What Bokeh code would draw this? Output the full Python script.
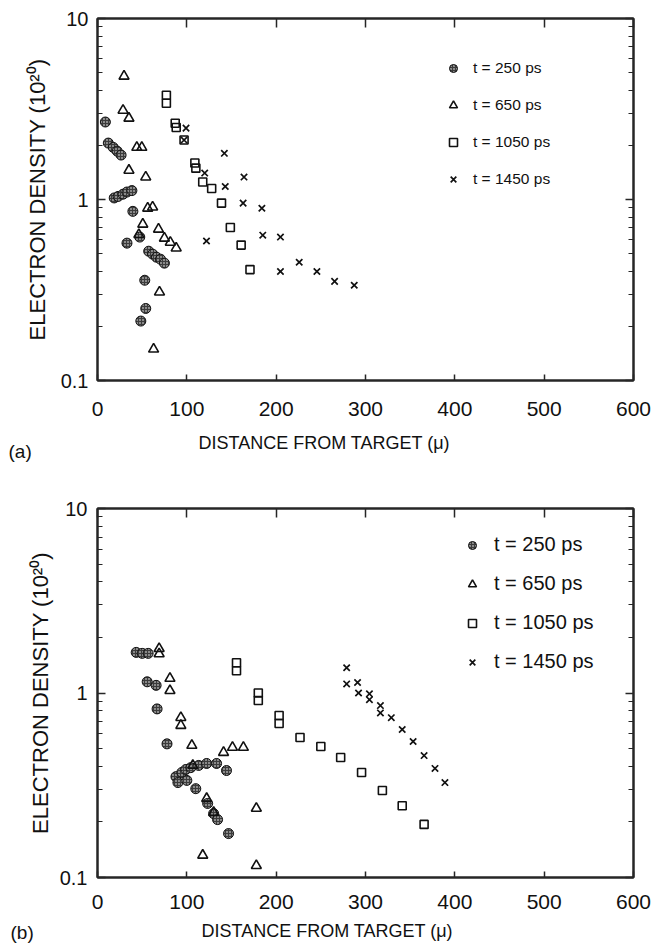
from bokeh.plotting import figure
from bokeh.models import (Range1d, LinearAxis, LogAxis, FixedTicker, Legend,
                          LegendItem, Title)
from bokeh.layouts import column
from bokeh.embed import file_html
from bokeh.resources import INLINE

# ---------------- data ----------------
X_TICKS = [0, 100, 200, 300, 400, 500, 600]
X_TICK_LABELS = ["0", "100", "200", "300", "400", "500", "600"]
Y_TICKS = [0.1, 1, 10]
Y_TICK_LABELS = ["0.1", "1", "10"]
Y_MINOR_TICKS = [0.2, 0.3, 0.4, 0.5, 0.6, 0.7, 0.8, 0.9,
                 2, 3, 4, 5, 6, 7, 8, 9]
SERIES_LABELS = ["t = 250 ps", "t = 650 ps", "t = 1050 ps", "t = 1450 ps"]
X_TITLE = "DISTANCE FROM TARGET (\u03bc)"
Y_TITLE = "ELECTRON DENSITY (10\u00b2\u2070)"
PANEL_TAGS = ["(a)", "(b)"]

# panel (a)
a_250_x = [8.8, 12.1, 17.6, 22.0, 26.4, 18.7, 23.1, 28.6, 33.0, 38.5, 39.6,
           33.0, 47.3, 57.3, 61.7, 66.0, 70.5, 74.9, 52.9, 54.0, 48.5]
a_250_y = [2.68, 2.05, 1.94, 1.85, 1.76, 1.02, 1.04, 1.07, 1.10, 1.12, 0.86,
           0.574, 0.62, 0.518, 0.499, 0.48, 0.468, 0.445, 0.358, 0.25, 0.213]
a_650_x = [29.7, 28.6, 35.2, 44.0, 49.6, 35.2, 54.0, 56.2, 61.7, 50.7, 46.3,
           68.3, 74.9, 81.5, 88.1, 69.4, 62.8]
a_650_y = [4.8, 3.11, 2.81, 1.94, 1.94, 1.45, 1.33, 0.895, 0.908, 0.73, 0.64,
           0.685, 0.611, 0.58, 0.539, 0.308, 0.149]
a_1050_x = [77.1, 77.1, 87.0, 88.1, 96.9, 109.0, 110.1, 117.8, 127.8, 138.8,
            148.7, 160.8, 170.7]
a_1050_y = [3.77, 3.4, 2.64, 2.5, 2.13, 1.59, 1.49, 1.25, 1.15, 0.955,
            0.70, 0.56, 0.41]
a_1450_x = [99.1, 96.9, 142.0, 120.0, 164.0, 143.0, 163.0, 184.0, 122.0,
            185.0, 204.8, 204.8, 225.8, 245.6, 265.4, 287.4]
a_1450_y = [2.48, 2.13, 1.80, 1.40, 1.33, 1.18, 0.955, 0.895, 0.59,
            0.635, 0.62, 0.40, 0.45, 0.40, 0.353, 0.336]

# panel (b)
b_250_x = [43.3, 50.0, 56.7, 55.6, 65.6, 66.7, 77.8, 87.8, 90.0, 94.4, 98.9,
           100.0, 104.4, 110.0, 113.3, 122.2, 133.3, 144.4, 123.3, 130.0,
           134.4, 146.7]
b_250_y = [1.66, 1.64, 1.64, 1.15, 1.10, 0.82, 0.53, 0.352, 0.327, 0.371,
           0.385, 0.336, 0.394, 0.303, 0.405, 0.415, 0.415, 0.38, 0.252,
           0.222, 0.206, 0.173]
b_650_x = [69.0, 69.0, 81.1, 81.1, 93.3, 93.3, 105.6, 106.7, 141.1, 151.1,
           163.3, 122.2, 130.0, 177.8, 117.8, 177.8]
b_650_y = [1.74, 1.63, 1.20, 1.03, 0.736, 0.667, 0.52, 0.405, 0.476, 0.507,
           0.507, 0.268, 0.225, 0.237, 0.132, 0.116]
b_1050_x = [155.6, 155.6, 180.0, 180.0, 203.3, 203.3, 226.7, 250.0, 272.2,
            295.6, 318.9, 341.1, 365.6]
b_1050_y = [1.46, 1.32, 1.0, 0.91, 0.755, 0.684, 0.574, 0.513, 0.447,
            0.371, 0.296, 0.245, 0.194]
b_1450_x = [278.9, 278.9, 291.1, 292.2, 304.4, 304.4, 316.7, 316.7, 328.9,
            341.1, 353.3, 365.6, 377.8, 388.9]
b_1450_y = [1.37, 1.12, 1.14, 1.0, 0.99, 0.92, 0.855, 0.78, 0.735, 0.634,
            0.546, 0.458, 0.39, 0.327]

# ---------------- styling ----------------
FONT = "Liberation Sans"
INK = "#262626"
TXT = "#111111"
FIG_W = 672


def style_axis(ax, tick_in, minor_in=0, show_labels=True, font_size="20px",
               standoff=10):
    ax.axis_line_color = INK
    ax.axis_line_width = 2
    ax.major_tick_line_color = INK
    ax.major_tick_line_width = 1.5
    ax.major_tick_in = tick_in
    ax.major_tick_out = 0
    ax.minor_tick_in = minor_in
    ax.minor_tick_out = 0
    ax.minor_tick_line_color = INK if minor_in else None
    ax.minor_tick_line_width = 1.2
    ax.major_label_text_font = FONT
    if show_labels:
        ax.major_label_text_font_size = font_size
        ax.major_label_text_color = TXT
        ax.major_label_standoff = standoff
    else:
        ax.major_label_text_font_size = "0px"
        ax.major_label_standoff = 0
        ax.major_label_text_color = None


def build_panel(series, frame_left, frame_w, frame_top, frame_h, fig_h,
                legend_xy, legend_spacing, legend_font, legend_standoff,
                xlab_standoff, ylab_standoff, ytitle_standoff,
                title_offset, title_standoff, tag, tag_offset, tag_standoff):
    p = figure(width=FIG_W, height=fig_h,
               x_range=Range1d(0, 600), y_range=Range1d(0.1, 10),
               y_axis_type="log", output_backend="svg",
               toolbar_location=None,
               min_border_left=frame_left,
               min_border_right=FIG_W - frame_left - frame_w,
               min_border_top=frame_top,
               min_border_bottom=fig_h - frame_top - frame_h)
    p.grid.visible = False
    p.outline_line_color = INK
    p.outline_line_width = 2
    p.background_fill_color = "white"
    p.border_fill_color = "white"

    xt = FixedTicker(ticks=X_TICKS, minor_ticks=[])
    yt = FixedTicker(ticks=Y_TICKS, minor_ticks=Y_MINOR_TICKS)

    xa = p.xaxis[0]
    xa.ticker = xt
    xa.major_label_overrides = {t: l for t, l in zip(X_TICKS, X_TICK_LABELS)}
    style_axis(xa, 6, standoff=xlab_standoff, font_size="21px")

    ya = p.yaxis[0]
    ya.ticker = yt
    ya.major_label_overrides = {t: l for t, l in zip(Y_TICKS, Y_TICK_LABELS)}
    style_axis(ya, 8, minor_in=5, standoff=ylab_standoff, font_size="20px")
    ya.axis_label = Y_TITLE
    ya.axis_label_text_font = FONT
    ya.axis_label_text_font_style = "normal"
    ya.axis_label_text_font_size = "22px"
    ya.axis_label_text_color = TXT
    ya.axis_label_standoff = ytitle_standoff

    top = LinearAxis(ticker=xt)
    top.major_label_overrides = {t: "" for t in X_TICKS}
    style_axis(top, 9, show_labels=False)
    p.add_layout(top, "above")

    right = LogAxis(ticker=yt)
    right.major_label_overrides = {t: "" for t in Y_TICKS}
    style_axis(right, 8, minor_in=5, show_labels=False)
    p.add_layout(right, "right")

    (x1, y1), (x2, y2), (x3, y3), (x4, y4) = series
    r1 = p.scatter(x1, y1, marker="circle", size=10, fill_color="#3c3c3c",
                   line_color=TXT, line_width=1,
                   hatch_pattern="dot", hatch_color="white",
                   hatch_scale=3, hatch_weight=1.2)
    r2 = p.scatter(x2, y2, marker="triangle", size=10, fill_color=None,
                   line_color=TXT, line_width=1.6)
    r3 = p.scatter(x3, y3, marker="square", size=8, fill_color=None,
                   line_color=TXT, line_width=1.6)
    r4 = p.scatter(x4, y4, marker="x", size=9, line_color=TXT,
                   line_width=1.7)
    markers = [r1, r2, r3, r4]

    legend = Legend(
        items=[LegendItem(label=lab, renderers=[r])
               for lab, r in zip(SERIES_LABELS, markers)],
        location=legend_xy, glyph_width=20, glyph_height=20,
        label_height=20, spacing=legend_spacing, padding=0, margin=0,
        border_line_color=None, background_fill_alpha=0,
        label_text_font=FONT, label_text_font_size=legend_font,
        label_text_color=TXT, label_standoff=legend_standoff)
    p.add_layout(legend)

    p.add_layout(Title(text=X_TITLE, align="left", offset=title_offset,
                       standoff=title_standoff, vertical_align="bottom",
                       text_font=FONT, text_font_size="18px",
                       text_font_style="normal", text_color=TXT), "below")
    p.add_layout(Title(text=tag, align="left", offset=tag_offset,
                       standoff=tag_standoff, vertical_align="top",
                       text_font=FONT, text_font_size="19px",
                       text_font_style="normal", text_color=TXT), "below")
    return p


pa = build_panel(
    [(a_250_x, a_250_y), (a_650_x, a_650_y), (a_1050_x, a_1050_y),
     (a_1450_x, a_1450_y)],
    frame_left=97, frame_w=545, frame_top=18, frame_h=362, fig_h=470,
    legend_xy=(346, 191), legend_spacing=17, legend_font="15.5px",
    legend_standoff=10, xlab_standoff=21, ylab_standoff=9,
    ytitle_standoff=8, title_offset=101, title_standoff=24,
    tag=PANEL_TAGS[0], tag_offset=-89, tag_standoff=-48)

pb = build_panel(
    [(b_250_x, b_250_y), (b_650_x, b_650_y), (b_1050_x, b_1050_y),
     (b_1450_x, b_1450_y)],
    frame_left=93, frame_w=540, frame_top=38, frame_h=369, fig_h=482,
    legend_xy=(365, 204), legend_spacing=16, legend_font="20px",
    legend_standoff=12, xlab_standoff=17, ylab_standoff=10,
    ytitle_standoff=4, title_offset=104, title_standoff=14,
    tag=PANEL_TAGS[1], tag_offset=-87, tag_standoff=-52)

layout = column(pa, pb, spacing=0)
open("out.html", "w").write(file_html(layout, INLINE))
